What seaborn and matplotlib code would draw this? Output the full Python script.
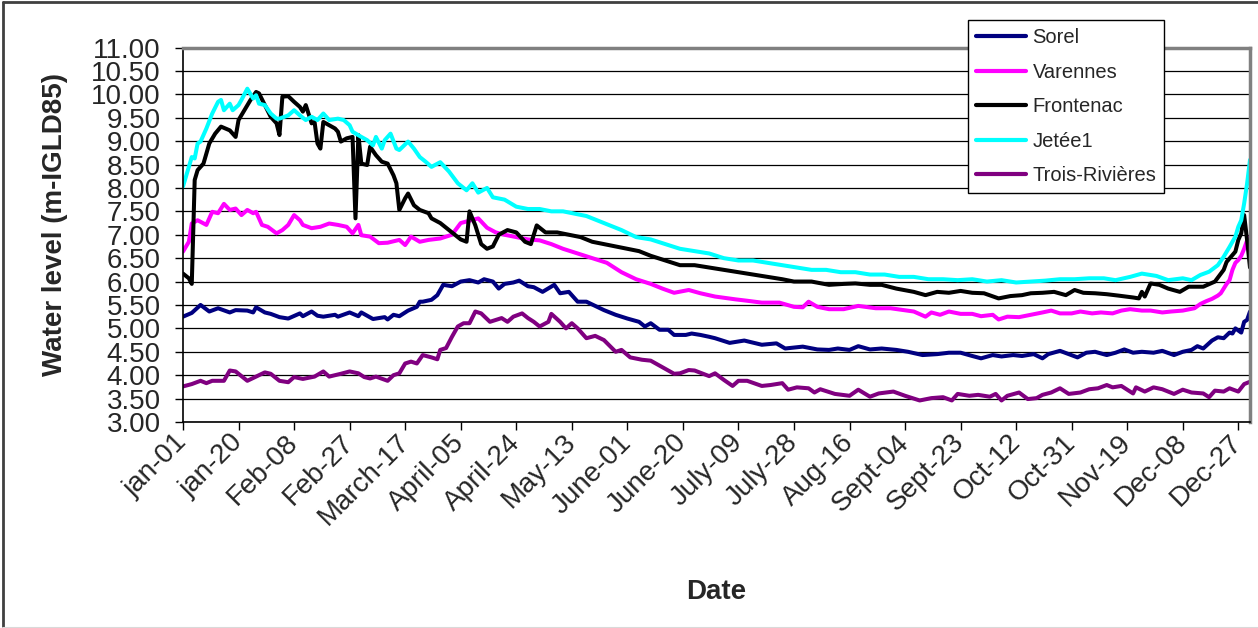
import numpy as np
import pandas as pd
import matplotlib
matplotlib.use("Agg")
import matplotlib.pyplot as plt
from matplotlib.lines import Line2D
from matplotlib.ticker import FormatStrFormatter
import seaborn as sns

# Stations and their line colours
stations = ["Sorel", "Varennes", "Frontenac", "Jetée1", "Trois-Rivières"]
colors = ["#000080", "#FF00FF", "#000000", "#00FFFF", "#800080"]

# Day-of-year (leap year, 0 = jan-01) tick positions every 19 days
tick_days = list(range(0, 362, 19))
tick_labels = ["jan-01", "jan-20", "Feb-08", "Feb-27", "March-17", "April-05",
               "April-24", "May-13", "June-01", "June-20", "July-09", "July-28",
               "Aug-16", "Sept-04", "Sept-23", "Oct-12", "Oct-31", "Nov-19",
               "Dec-08", "Dec-27"]

# Water levels (m, IGLD85) by day of year
sorel_day = [0, 3, 6, 9, 12, 16, 18, 22, 24, 25, 28, 30, 33, 36, 40, 41, 44, 46, 48, 52,
             53, 57, 60, 61, 65, 69, 70, 72, 74, 77, 80, 81, 82, 85, 87, 89, 92, 95, 98, 101,
             103, 106, 108, 110, 113, 115, 118, 120, 123, 127, 129, 132, 135, 138, 141, 144, 148, 152, 156, 158,
             160, 163, 166, 168, 172, 174, 177, 180, 182, 187, 192, 198, 203, 206, 212, 217, 221, 224, 228, 231,
             235, 239, 244, 248, 253, 258, 262, 266, 270, 273, 277, 280, 284, 287, 291, 294, 296, 300, 303, 306,
             309, 312, 316, 319, 322, 325, 328, 332, 335, 339, 342, 345, 347, 349, 352, 354, 356, 358, 359, 360,
             362, 363, 364, 365]
sorel_lvl = [5.25, 5.33, 5.50, 5.36, 5.43, 5.34, 5.39, 5.38, 5.34, 5.45, 5.34, 5.31, 5.24, 5.21, 5.32, 5.26, 5.36, 5.27, 5.25, 5.29,
             5.25, 5.34, 5.26, 5.34, 5.20, 5.24, 5.19, 5.29, 5.26, 5.38, 5.46, 5.57, 5.57, 5.61, 5.71, 5.93, 5.90, 6.00, 6.03, 5.98,
             6.05, 6.00, 5.85, 5.95, 5.98, 6.02, 5.90, 5.88, 5.78, 5.93, 5.75, 5.78, 5.57, 5.57, 5.48, 5.39, 5.29, 5.21, 5.14, 5.04,
             5.11, 4.97, 4.97, 4.86, 4.86, 4.89, 4.86, 4.82, 4.79, 4.69, 4.74, 4.65, 4.68, 4.57, 4.61, 4.55, 4.54, 4.57, 4.54, 4.62,
             4.55, 4.57, 4.54, 4.50, 4.43, 4.45, 4.48, 4.48, 4.41, 4.36, 4.43, 4.40, 4.43, 4.41, 4.45, 4.36, 4.45, 4.52, 4.45, 4.38,
             4.48, 4.50, 4.43, 4.48, 4.55, 4.48, 4.50, 4.48, 4.52, 4.43, 4.50, 4.54, 4.62, 4.57, 4.74, 4.81, 4.79, 4.91, 4.89, 5.00,
             4.91, 5.14, 5.18, 5.36]

varennes_day = [0, 2, 3, 5, 8, 10, 12, 14, 16, 18, 20, 22, 24, 25, 27, 29, 32, 34, 36, 38,
                40, 41, 44, 47, 50, 53, 56, 58, 60, 61, 64, 67, 70, 74, 76, 78, 81, 84, 88, 92,
                95, 98, 101, 104, 107, 110, 114, 118, 122, 126, 130, 135, 140, 145, 150, 155, 160, 164, 168, 173,
                177, 182, 189, 193, 198, 204, 209, 212, 214, 217, 221, 226, 231, 237, 242, 250, 254, 256, 259, 262,
                266, 270, 273, 277, 279, 282, 286, 290, 294, 297, 300, 304, 307, 311, 314, 318, 321, 324, 328, 331,
                335, 338, 342, 346, 348, 350, 352, 354, 355, 356, 357, 358, 359, 360, 361, 362, 363, 364, 365]
varennes_lvl = [6.64, 6.85, 7.24, 7.31, 7.21, 7.49, 7.46, 7.66, 7.53, 7.56, 7.42, 7.53, 7.46, 7.49, 7.21, 7.17, 7.03, 7.10, 7.21, 7.42,
                7.31, 7.21, 7.14, 7.17, 7.24, 7.21, 7.17, 7.03, 7.21, 6.99, 6.96, 6.82, 6.83, 6.89, 6.78, 6.96, 6.85, 6.89, 6.92, 7.00,
                7.25, 7.30, 7.35, 7.15, 7.05, 7.00, 6.95, 6.90, 6.88, 6.80, 6.70, 6.60, 6.50, 6.40, 6.20, 6.05, 5.95, 5.85, 5.76, 5.82,
                5.75, 5.68, 5.62, 5.59, 5.55, 5.55, 5.46, 5.45, 5.57, 5.46, 5.41, 5.41, 5.48, 5.43, 5.43, 5.36, 5.25, 5.34, 5.29, 5.36,
                5.31, 5.31, 5.26, 5.29, 5.19, 5.25, 5.24, 5.29, 5.34, 5.38, 5.32, 5.32, 5.36, 5.32, 5.34, 5.32, 5.38, 5.41, 5.38, 5.38,
                5.34, 5.36, 5.38, 5.43, 5.52, 5.58, 5.63, 5.70, 5.75, 5.85, 5.95, 6.03, 6.25, 6.40, 6.46, 6.55, 6.70, 6.88, 6.95]

frontenac_day = [0, 2, 3, 4, 5, 7, 9, 11, 13, 16, 18, 19, 21, 23, 25, 26, 28, 30, 32, 33,
                 34, 36, 38, 40, 41, 42, 44, 45, 46, 47, 48, 50, 52, 53, 54, 56, 58, 59, 60, 61,
                 63, 64, 66, 68, 70, 72, 73, 74, 76, 77, 79, 81, 84, 85, 88, 91, 93, 95, 97, 98,
                 100, 102, 104, 106, 108, 111, 114, 117, 119, 121, 124, 128, 132, 136, 140, 144, 148, 152, 156, 160,
                 165, 170, 175, 180, 185, 190, 195, 200, 205, 209, 215, 221, 226, 230, 235, 239, 244, 250, 254, 258,
                 262, 266, 270, 274, 279, 283, 287, 290, 294, 298, 302, 305, 308, 312, 316, 320, 325, 327, 328, 329,
                 331, 334, 337, 341, 344, 349, 353, 356, 357, 360, 361, 362, 363, 364, 365]
frontenac_lvl = [6.17, 6.07, 5.95, 8.17, 8.38, 8.52, 8.95, 9.16, 9.31, 9.23, 9.09, 9.45, 9.66, 9.87, 10.05, 10.02, 9.77, 9.52, 9.38, 9.13,
                 9.95, 9.96, 9.84, 9.73, 9.63, 9.77, 9.38, 9.41, 8.95, 8.84, 9.41, 9.34, 9.27, 9.20, 8.99, 9.06, 9.09, 7.35, 9.13, 8.52,
                 8.49, 8.88, 8.70, 8.56, 8.52, 8.27, 8.10, 7.53, 7.78, 7.88, 7.63, 7.53, 7.46, 7.35, 7.25, 7.10, 7.00, 6.90, 6.85, 7.50,
                 7.20, 6.80, 6.70, 6.75, 7.00, 7.10, 7.05, 6.85, 6.80, 7.20, 7.05, 7.05, 7.00, 6.95, 6.85, 6.80, 6.75, 6.70, 6.65, 6.55,
                 6.45, 6.35, 6.35, 6.30, 6.25, 6.20, 6.15, 6.10, 6.05, 6.00, 6.00, 5.93, 5.95, 5.96, 5.93, 5.93, 5.85, 5.78, 5.71, 5.78,
                 5.76, 5.80, 5.76, 5.75, 5.64, 5.69, 5.71, 5.75, 5.76, 5.78, 5.71, 5.82, 5.76, 5.75, 5.73, 5.70, 5.66, 5.64, 5.78, 5.68,
                 5.96, 5.93, 5.85, 5.78, 5.89, 5.89, 6.00, 6.25, 6.42, 6.64, 6.89, 7.03, 7.42, 6.89, 6.30]

jetee_day = [0, 2, 3, 4, 5, 6, 8, 10, 12, 13, 14, 16, 17, 19, 20, 22, 24, 25, 26, 28,
             30, 32, 33, 36, 38, 40, 42, 44, 46, 48, 50, 53, 55, 57, 58, 61, 63, 65, 66, 68,
             69, 71, 73, 74, 77, 79, 81, 83, 85, 88, 91, 94, 97, 99, 101, 104, 106, 110, 114, 118,
             122, 126, 130, 134, 138, 142, 146, 150, 155, 160, 165, 170, 175, 180, 185, 190, 195, 200, 205, 210,
             215, 220, 225, 230, 235, 240, 245, 250, 255, 260, 265, 270, 275, 280, 285, 290, 295, 300, 305, 310,
             315, 319, 324, 328, 333, 337, 342, 345, 348, 351, 354, 356, 358, 360, 361, 362, 363, 364, 365]
jetee_lvl = [8.03, 8.45, 8.66, 8.63, 8.95, 8.99, 9.27, 9.59, 9.84, 9.88, 9.66, 9.80, 9.66, 9.77, 9.88, 10.12, 9.91, 9.98, 9.80, 9.77,
             9.59, 9.48, 9.48, 9.55, 9.66, 9.55, 9.45, 9.52, 9.45, 9.59, 9.45, 9.48, 9.45, 9.34, 9.20, 9.09, 9.02, 8.91, 9.09, 8.84,
             9.02, 9.16, 8.84, 8.81, 8.99, 8.84, 8.66, 8.56, 8.45, 8.55, 8.35, 8.10, 7.95, 8.10, 7.90, 8.00, 7.80, 7.75, 7.60, 7.55,
             7.55, 7.50, 7.50, 7.45, 7.40, 7.30, 7.20, 7.10, 6.95, 6.90, 6.80, 6.70, 6.65, 6.60, 6.50, 6.45, 6.45, 6.40, 6.35, 6.30,
             6.25, 6.25, 6.20, 6.20, 6.15, 6.15, 6.10, 6.10, 6.05, 6.05, 6.03, 6.05, 6.00, 6.03, 5.98, 6.00, 6.02, 6.05, 6.05, 6.07,
             6.07, 6.03, 6.10, 6.17, 6.12, 6.03, 6.07, 6.03, 6.14, 6.21, 6.35, 6.53, 6.74, 6.96, 7.17, 7.31, 7.67, 8.09, 8.60]

trois_day = [0, 3, 6, 8, 10, 14, 16, 18, 21, 22, 25, 28, 30, 33, 36, 38, 41, 45, 48, 50,
             54, 57, 60, 62, 64, 66, 70, 72, 74, 76, 78, 80, 82, 85, 87, 88, 90, 92, 94, 96,
             98, 100, 102, 105, 107, 109, 111, 113, 116, 118, 120, 122, 125, 126, 129, 131, 133, 135, 138, 141,
             144, 148, 150, 153, 157, 160, 164, 168, 170, 173, 175, 180, 182, 185, 188, 190, 193, 198, 201, 205,
             207, 210, 214, 216, 218, 223, 228, 231, 235, 238, 243, 247, 252, 256, 260, 263, 265, 269, 272, 276,
             278, 280, 282, 286, 289, 292, 294, 297, 300, 303, 307, 310, 313, 316, 318, 321, 325, 326, 329, 332,
             335, 339, 342, 345, 349, 351, 353, 356, 358, 361, 363, 365]
trois_lvl = [3.76, 3.81, 3.88, 3.83, 3.88, 3.88, 4.10, 4.08, 3.93, 3.88, 3.97, 4.06, 4.03, 3.88, 3.85, 3.96, 3.92, 3.97, 4.08, 3.97,
             4.03, 4.08, 4.04, 3.96, 3.93, 3.97, 3.88, 4.00, 4.04, 4.25, 4.29, 4.25, 4.43, 4.38, 4.34, 4.54, 4.58, 4.82, 5.04, 5.11,
             5.11, 5.36, 5.32, 5.14, 5.18, 5.22, 5.14, 5.25, 5.32, 5.22, 5.14, 5.04, 5.14, 5.31, 5.14, 5.00, 5.11, 5.00, 4.79, 4.84,
             4.75, 4.50, 4.54, 4.38, 4.33, 4.31, 4.17, 4.03, 4.04, 4.11, 4.10, 3.98, 4.04, 3.90, 3.77, 3.88, 3.88, 3.77, 3.79, 3.83,
             3.69, 3.74, 3.72, 3.63, 3.70, 3.60, 3.56, 3.69, 3.54, 3.61, 3.65, 3.56, 3.46, 3.51, 3.53, 3.46, 3.60, 3.56, 3.58, 3.54,
             3.60, 3.46, 3.56, 3.63, 3.49, 3.51, 3.58, 3.63, 3.72, 3.60, 3.63, 3.70, 3.72, 3.79, 3.74, 3.77, 3.61, 3.74, 3.65, 3.74,
             3.70, 3.60, 3.69, 3.63, 3.61, 3.53, 3.67, 3.65, 3.72, 3.65, 3.81, 3.86]

series = {
    "Sorel": (sorel_day, sorel_lvl),
    "Varennes": (varennes_day, varennes_lvl),
    "Frontenac": (frontenac_day, frontenac_lvl),
    "Jetée1": (jetee_day, jetee_lvl),
    "Trois-Rivières": (trois_day, trois_lvl),
}
df = pd.concat(
    [pd.DataFrame({"day": d, "level": v, "station": name}) for name, (d, v) in series.items()],
    ignore_index=True,
)

sns.set_style("white")
plt.rcParams["font.family"] = ["Liberation Sans", "DejaVu Sans"]

W, H = 1258, 628
fig = plt.figure(figsize=(W / 100, H / 100), dpi=100)
ax = fig.add_axes([183 / W, 1 - 422 / H, 1067 / W, 374.5 / H])

sns.lineplot(data=df, x="day", y="level", hue="station", hue_order=stations,
             palette=dict(zip(stations, colors)), estimator=None, sort=False,
             linewidth=2.9, ax=ax)

ax.set_xlim(0, 365)
ax.set_ylim(3, 11)
ax.set_yticks(np.arange(3, 11.01, 0.5))
ax.yaxis.set_major_formatter(FormatStrFormatter("%.2f"))
ax.yaxis.grid(True, color="black", linewidth=0.9)
ax.set_axisbelow(True)

ax.set_xticks(tick_days)
ax.set_xticklabels(tick_labels, rotation=45, ha="right", va="center",
                   rotation_mode="anchor")
ax.tick_params(axis="y", direction="out", length=6, width=1, color="black",
               labelsize=20, pad=10, left=True)
ax.tick_params(axis="x", direction="out", length=6, width=1, color="black",
               labelsize=20, pad=6, bottom=True)

for side in ["left", "bottom"]:
    ax.spines[side].set_color("black")
    ax.spines[side].set_linewidth(1.2)
for side in ["top", "right"]:
    ax.spines[side].set_color("#808080")
    ax.spines[side].set_linewidth(2.5)

ax.set_xlabel("Date", fontsize=20, fontweight="bold", va="center")
ax.xaxis.set_label_coords(0.5, (422 - 592) / 374.5)
ax.set_ylabel("Water level (m-IGLD85)", fontsize=20, fontweight="bold", va="center")
ax.yaxis.set_label_coords((55 - 183) / 1067, (422 - 224) / 374.5)

handles, labels = ax.get_legend_handles_labels()
ax.get_legend().remove()
for h in handles:
    h.set_linewidth(3)
leg = ax.legend(handles, labels, loc="upper left",
                bbox_to_anchor=(968 / W, 1 - 20 / H), bbox_transform=fig.transFigure,
                frameon=True, fancybox=False, edgecolor="black", framealpha=1,
                fontsize=14.5, handlelength=2.5, handletextpad=0.3,
                labelspacing=0.77, borderpad=0.4, borderaxespad=0)
leg.get_frame().set_linewidth(1)

# Outer chart border
fig.add_artist(Line2D([3 / W, 3 / W], [0, 1 - 2 / H], transform=fig.transFigure,
                      color="#404040", linewidth=2))
fig.add_artist(Line2D([3 / W, 1], [1 - 2 / H, 1 - 2 / H], transform=fig.transFigure,
                      color="#404040", linewidth=2))
fig.add_artist(Line2D([3 / W, 1], [0.5 / H, 0.5 / H], transform=fig.transFigure,
                      color="#d9d9d9", linewidth=1.5))

fig.savefig("out.png", dpi=100)
